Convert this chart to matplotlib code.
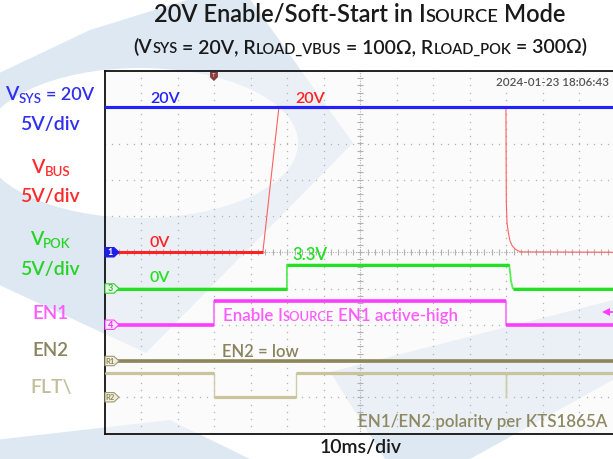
import numpy as np
import matplotlib
matplotlib.use('Agg')
import matplotlib.pyplot as plt
from matplotlib.patches import Polygon, Ellipse

W, H = 613, 459
FONT = ['Lato', 'DejaVu Sans']
FW = 'semibold'

# ---------------- data ----------------
MS_PER_DIV = 10
V_PER_DIV = 5
T_RANGE = (-70, 70)          # ms  (14 div, trigger at centre)

vsys_t = [-70, 70]
vsys_v = [20, 20]
vbus_t = [-70, -26.7, -22.3, 39.9, 40.0, 40.2, 40.6, 41.0, 41.6, 42.4, 43.2, 44.0, 70]
vbus_v = [0, 0, 20, 20, 7.0, 4.0, 2.6, 1.6, 0.9, 0.45, 0.2, 0.05, 0]
vpok_t = [-70, -20.1, -20.1, 40.8, 41.3, 41.8, 70]
vpok_v = [0, 0, 3.3, 3.3, 1.0, 0, 0]
en1_t = [-70, -40.1, -40.1, 39.9, 39.9, 70]
en1_v = [0, 0, 3.3, 3.3, 0, 0]
en2_t = [-70, 70]
en2_v = [0, 0]
flt_t = [-70, -40.1, -40.1, -17.5, -17.5, 39.9, 39.9, 39.95, 39.95, 70]
flt_v = [3.3, 3.3, 0, 0, 3.3, 3.3, 0, 0, 3.3, 3.3]

# channel ground offsets (divisions from centre)
off_vsys, off_vbus, off_vpok, off_en1, off_en2, off_flt = 0, 0, -1, -2, -3, -4

C_BLUE = '#2222FF'
C_RED = '#FF2222'
C_GREEN = '#22E022'
C_MAG = '#FF3CFF'
C_EN2 = '#8C865A'
C_FLT = '#C9C49C'

# ---------------- figure ----------------
fig = plt.figure(figsize=(W / 100, H / 100), dpi=100)
bg = fig.add_axes([0, 0, 1, 1], zorder=0)
bg.set_xlim(0, W); bg.set_ylim(H, 0); bg.axis('off')

# watermark (light logo)
wm = '#DDE8F3'
outer = [(203, -5), (247, -5), (353, 143), (146, 353), (-5, 283), (-5, 75), (90, 30)]
bg.add_patch(Polygon(outer, closed=True, fc=wm, ec='none'))
bg.add_patch(Ellipse((140, 143), 316, 150, fc='white', ec='none'))
bg.add_patch(Polygon([(-5, 440), (170, 420), (250, 459), (-5, 459)], closed=True, fc=wm, ec='none'))
bg.add_patch(Polygon([(330, 372), (613, 300), (613, 380), (470, 459), (385, 459)], closed=True, fc=wm, ec='none'))

# scope axes
L, R, T, B = 104.8, 615.8, 71.0, 433.5
sc = fig.add_axes([L / W, (H - B) / H, (R - L) / W, (B - T) / H], zorder=2)
sc.set_xlim(*T_RANGE); sc.set_ylim(-5, 5)
sc.set_facecolor((0.975, 0.975, 0.975, 0.5))
for s in sc.spines.values():
    s.set_color('#111111'); s.set_linewidth(1.3)
sc.set_xticks([]); sc.set_yticks([])

# grid dots
gcol = '#B2B2B2'
ydots = np.arange(-5, 5.001, 0.2)
tdots = np.arange(-70, 70.001, 2)
for k in range(-6, 7):
    if k == 0:
        continue
    sc.plot(np.full_like(ydots, k * MS_PER_DIV), ydots, ls='none', marker='s', ms=0.9, mew=0, color=gcol)
for j in range(-4, 5):
    if j == 0:
        continue
    sc.plot(tdots, np.full_like(tdots, j), ls='none', marker='s', ms=0.9, mew=0, color=gcol)
# centre lines with minor ticks
sc.axvline(0, color=gcol, lw=0.8, ls=(0, (1, 1.3)))
sc.axhline(0, color=gcol, lw=0.8, ls=(0, (1, 1.3)))
sc.plot(np.zeros_like(ydots), ydots, ls='none', marker='_', ms=4, mew=0.8, color=gcol)
sc.plot(tdots, np.zeros_like(tdots), ls='none', marker='|', ms=4, mew=0.8, color=gcol)


def trace(t, v, off, color, lw_h, lw_v, color_v=None, z=3):
    t = np.asarray(t, float)
    y = off + np.asarray(v, float) / V_PER_DIV
    sc.plot(t, y, color=color_v or color, lw=lw_v, zorder=z, solid_joinstyle='round')
    for i in range(len(t) - 1):
        if y[i] == y[i + 1]:
            sc.plot(t[i:i + 2], y[i:i + 2], color=color, lw=lw_h, zorder=z, solid_capstyle='butt')


trace(flt_t, flt_v, off_flt, C_FLT, 2.3, 1.0, '#CFCBA8')
trace(en2_t, en2_v, off_en2, C_EN2, 2.6, 1.0)
trace(en1_t, en1_v, off_en1, C_MAG, 2.6, 1.4, '#FF80FF')
trace(vpok_t, vpok_v, off_vpok, C_GREEN, 2.2, 1.3, '#55EE55')
trace(vbus_t, vbus_v, off_vbus, C_RED, 2.2, 0.8, '#FF6060')
trace(vsys_t, vsys_v, off_vsys, C_BLUE, 2.2, 2.2, z=4)

# EN1 trigger level arrow at right edge
sc.plot([67.2, 70], [-1.64, -1.64], color=C_MAG, lw=1.2, clip_on=False, zorder=5)
sc.plot([67.2], [-1.64], marker='<', ms=5.5, color=C_MAG, mew=0, clip_on=False, zorder=5)

# ---------------- overlay (text & markers) ----------------
ov = fig.add_axes([0, 0, 1, 1], zorder=6)
ov.set_xlim(0, W); ov.set_ylim(H, 0); ov.axis('off')
ov.patch.set_alpha(0)

fig.canvas.draw()
rend = fig.canvas.get_renderer()


def to_px(t, d):
    x, y = sc.transData.transform((t, d))
    return x, H - y


def tw(s, size):
    a = ov.text(0, 0, '|' + s + '|', fontsize=size, family=FONT, fontweight=FW)
    b = ov.text(0, 0, '||', fontsize=size, family=FONT, fontweight=FW)
    w = a.get_window_extent(rend).width - b.get_window_extent(rend).width
    a.remove(); b.remove()
    return w


def rich(x, y, parts, ha='left'):
    widths = [tw(p[0], p[1]) for p in parts]
    tot = sum(widths)
    x0 = x - tot / 2 if ha == 'center' else (x - tot if ha == 'right' else x)
    for (s, size, col, dy), w in zip(parts, widths):
        st = s.lstrip(' ')
        lead = tw(s[:len(s) - len(st)], size) if len(st) < len(s) else 0
        if st:
            ov.text(x0 + lead, y + dy, st, fontsize=size, color=col, family=FONT, fontweight=FW,
                    va='baseline', ha='left', clip_on=False)
        x0 += w


K = '#1A1A1A'
rich(360, 22, [('20V Enable/Soft-Start in ', 17, K, 0), ('I', 17, K, 0),
               ('SOURCE', 13.2, K, 0), (' Mode', 17, K, 0)], ha='center')
rich(360.5, 53.3, [('(V', 14, K, 0), ('SYS', 10.5, K, 0), (' = 20V, R', 14, K, 0),
                   ('LOAD_VBUS', 10.5, K, 0), (' = 100Ω, R', 14, K, 0),
                   ('LOAD_POK', 10.5, K, 0), (' = 300Ω)', 14, K, 0)], ha='center')

LB = '#3030F0'; LR = '#FF2A2A'; LG = '#25D425'; LM = '#FF5CFF'; LE2 = '#8A845E'; LF = '#C2BE9A'
rich(50, 100, [('V', 14, LB, 0), ('SYS', 9.5, LB, 3), (' = 20V', 13, LB, 0)], ha='center')
rich(50, 130, [('5V/div', 14, LB, 0)], ha='center')
rich(50.5, 173, [('V', 14, LR, 0), ('BUS', 9.5, LR, 3)], ha='center')
rich(50, 202, [('5V/div', 14, LR, 0)], ha='center')
rich(50.5, 245, [('V', 14, LG, 0), ('POK', 9.5, LG, 3)], ha='center')
rich(50, 275, [('5V/div', 14, LG, 0)], ha='center')
rich(50, 319, [('EN1', 13.5, LM, 0)], ha='center')
rich(50, 356, [('EN2', 13.5, LE2, 0)], ha='center')
rich(51, 393, [('FLT\\', 14, LF, 0)], ha='center')

# in-plot annotations
rich(150, 103.3, [('20V', 11.5, C_BLUE, 0)])
rich(295, 103.3, [('20V', 11.5, C_RED, 0)])
rich(149, 247, [('0V', 11.5, C_RED, 0)])
rich(149, 282, [('0V', 11.5, C_GREEN, 0)])
rich(292.7, 260, [('3.3V', 12.2, C_GREEN, 0)])
rich(222.7, 320.7, [('Enable ', 12.2, LM, 0), ('I', 12.2, LM, 0), ('SOURCE', 9.4, LM, 0),
                    (' EN1 active-high', 12.2, LM, 0)])
rich(221.7, 357.3, [('EN2 = low', 12.0, LE2, 0)])
rich(607, 426.7, [('EN1/EN2 polarity per KTS1865A', 12.2, '#8E8962', 0)], ha='right')
rich(360.3, 453, [('10ms/div', 14, K, 0)], ha='center')
rich(609, 86, [('2024-01-23 18:06:43', 8.4, '#555555', 0)], ha='right')

# channel reference markers
def marker(level, label, fc, ec, tc, fs=6.5):
    _, yp = to_px(T_RANGE[0], level)
    x0 = 105.0
    pts = [(x0, yp - 4.7), (x0 + 9, yp - 4.7), (x0 + 14, yp), (x0 + 9, yp + 4.7), (x0, yp + 4.7)]
    ov.add_patch(Polygon(pts, closed=True, fc=fc, ec=ec, lw=0.8, zorder=7))
    ov.text(x0 + 5.5, yp + 0.3, label, fontsize=fs, color=tc, family=FONT, fontweight='bold',
            ha='center', va='center', zorder=8)


marker(off_vbus, '1', '#1E1EE6', '#1E1EE6', 'white')
marker(off_vpok, '3', '#E4FBE4', '#33CC33', '#33BB33')
marker(off_en1, '4', '#FCE4FC', '#FF44FF', '#EE33EE')
marker(off_en2, 'R1', '#EFEEDF', '#A09A70', '#8C865A', 5.5)
marker(off_flt, 'R2', '#EFEEDF', '#A09A70', '#8C865A', 5.5)

# trigger position marker at top
xt, _ = to_px(en1_t[1], 5)
ov.add_patch(Polygon([(xt - 3.5, 72), (xt + 3.5, 72), (xt + 3.5, 77), (xt, 80.5), (xt - 3.5, 77)],
                     closed=True, fc='#8B3C3C', ec='#6E2A2A', lw=0.5, zorder=7))
ov.text(xt, 75.3, 'T', fontsize=4.5, color='#F0DCDC', family=FONT, ha='center', va='center', zorder=8)

fig.savefig('out.png', dpi=100)
